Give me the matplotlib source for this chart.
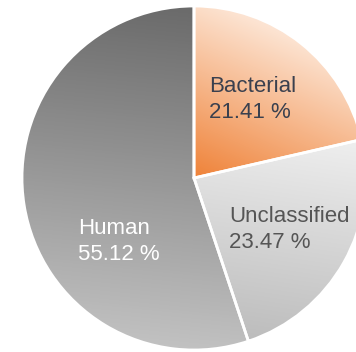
import numpy as np
import matplotlib
matplotlib.use("Agg")
import matplotlib.pyplot as plt
from matplotlib.colors import LinearSegmentedColormap

labels = ["Bacterial", "Unclassified", "Human"]
shares = [21.41, 23.47, 55.12]

# light / dark end of each slice's gradient and its direction (dx, dy, up is +y)
grad_light = ["#fde8d9", "#efefef", "#c2c2c2"]
grad_dark = ["#ef8238", "#bcbcbc", "#6a6a6a"]
grad_dir = [(0.45, 1.0), (0.15, 1.0), (-0.1, -1.0)]
text_colors = ["#3a404e", "#555555", "white"]
# left edge and baseline of the lower label line, in pixels from the top-left
label_pos = [(209, 118), (229, 248), (78, 260)]

W, H = 356, 352
cx, cy, r = 194, H - 178, 172

fig = plt.figure(figsize=(W / 100, H / 100), dpi=100)
ax = fig.add_axes([0, 0, 1, 1])
ax.axis("off")

wedges, _ = ax.pie(shares, startangle=90, counterclock=False, center=(cx, cy),
                   radius=r, colors=grad_dark, wedgeprops=dict(linewidth=0))

xx, yy = np.meshgrid(np.arange(W) + 0.5, np.arange(H) + 0.5)
for w, lo, hi, d in zip(wedges, grad_light, grad_dark, grad_dir):
    # project onto the gradient direction, normalised over the wedge's extent
    verts = w.get_path().vertices
    dx, dy = np.array(d) / np.hypot(*d)
    proj_v = verts[:, 0] * dx + verts[:, 1] * dy
    t = (xx * dx + yy * dy - proj_v.min()) / (proj_v.max() - proj_v.min())
    cmap = LinearSegmentedColormap.from_list("g", [hi, lo])
    im = ax.imshow(np.clip(t, 0, 1), cmap=cmap, vmin=0, vmax=1,
                   extent=(0, W, 0, H), origin="lower",
                   interpolation="bilinear", zorder=2)
    im.set_clip_path(w)

# white separators on top of the gradients
ax.pie(shares, startangle=90, counterclock=False, center=(cx, cy), radius=r,
       wedgeprops=dict(fill=False, edgecolor="white", linewidth=2, zorder=3))
ax.set_xlim(0, W)
ax.set_ylim(0, H)
ax.set_aspect("equal")

for lab, val, col, (px, py) in zip(labels, shares, text_colors, label_pos):
    ax.text(px, H - py, f"{lab}\n{val:.2f} %", ha="left", va="baseline",
            color=col, fontsize=16, family="Liberation Sans",
            linespacing=1.3, zorder=4)

fig.savefig("out.png", dpi=100)
